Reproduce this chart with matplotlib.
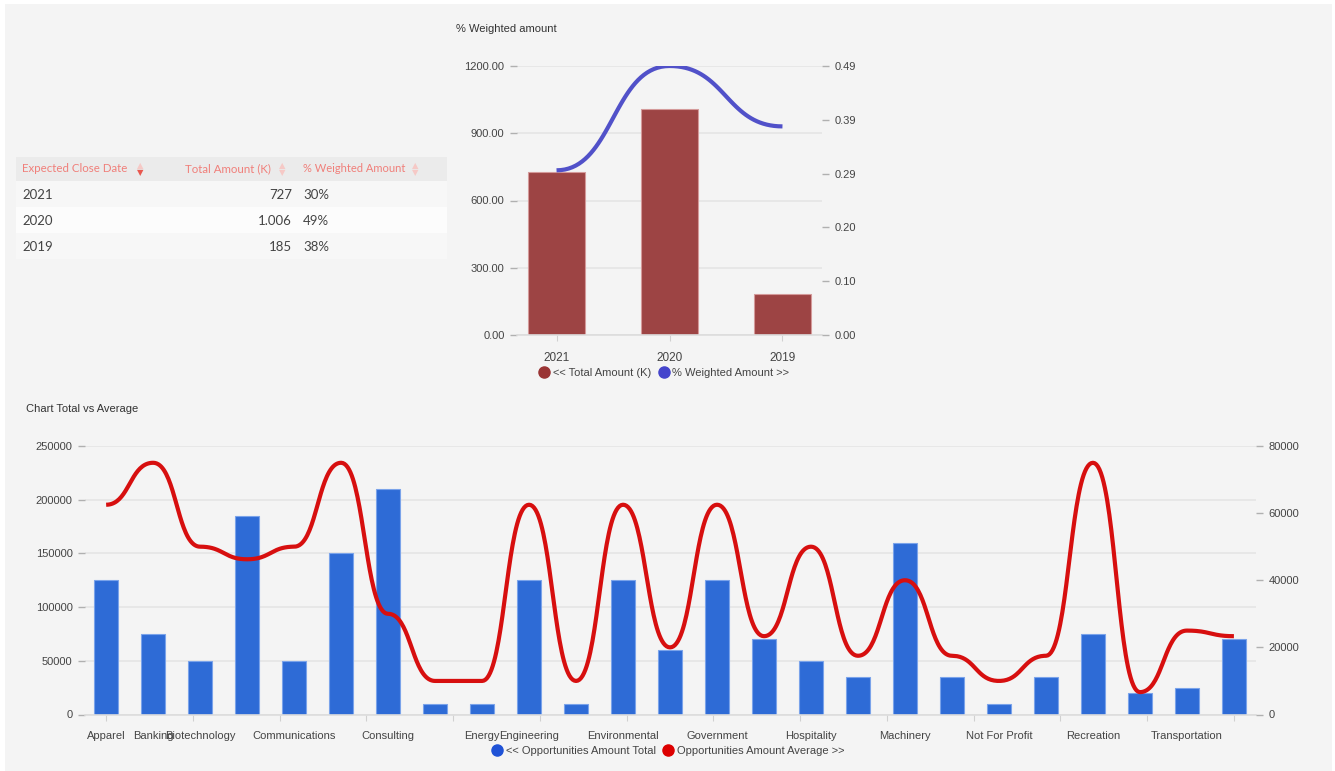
import numpy as np
import matplotlib
matplotlib.use('Agg')
import matplotlib.pyplot as plt
from matplotlib.lines import Line2D
from matplotlib.patches import Rectangle

# --- data ---------------------------------------------------------------
years = ['2021', '2020', '2019']
total_amount_k = [727, 1006, 185]
weighted_pct = [0.30, 0.49, 0.38]
table_amount = ['727', '1.006', '185']
table_pct = ['30%', '49%', '38%']

categories = ['Apparel', 'Banking', 'Biotechnology', 'Chemicals', 'Communications',
              'Construction', 'Consulting', 'Education', 'Energy', 'Engineering',
              'Entertainment', 'Environmental', 'Finance', 'Government', 'Healthcare',
              'Hospitality', 'Insurance', 'Machinery', 'Media', 'Not For Profit',
              'Other', 'Recreation', 'Retail', 'Transportation', 'Utilities']
opp_total = [125000, 75000, 50000, 185000, 50000, 150000, 210000, 10000, 10000, 125000,
             10000, 125000, 60000, 125000, 70000, 50000, 35000, 160000, 35000, 10000,
             35000, 75000, 20000, 25000, 70000]
opp_average = [62500, 75000, 50000, 46250, 50000, 75000, 30000, 10000, 10000, 62500,
               10000, 62500, 20000, 62500, 23333, 50000, 17500, 40000, 17500, 10000,
               17500, 75000, 6667, 25000, 23333]
shown_labels = ['Apparel', 'Banking', 'Biotechnology', 'Communications', 'Consulting',
                'Energy', 'Engineering', 'Environmental', 'Government', 'Hospitality',
                'Machinery', 'Not For Profit', 'Recreation', 'Transportation']

W, H = 1335, 771
BG = '#f4f4f4'
TXT = '#444444'
GRID = '#e6e6e6'
plt.rcParams['font.family'] = ['Liberation Sans', 'DejaVu Sans']


def fx(x):
    return x / W


def fy(y):
    return 1 - y / H


def smooth(xs, ys, n=40):
    # each segment is a bezier with flat tangents at the points
    px, py = [], []
    t = np.linspace(0, 1, n)
    for i in range(len(xs) - 1):
        x0, x1, y0, y1 = xs[i], xs[i + 1], ys[i], ys[i + 1]
        h = x1 - x0
        c = [(x0, y0), (x0 + 0.5 * h, y0), (x1 - 0.5 * h, y1), (x1, y1)]
        b = [(1 - t) ** 3, 3 * (1 - t) ** 2 * t, 3 * (1 - t) * t ** 2, t ** 3]
        px.extend(sum(b[k] * c[k][0] for k in range(4)))
        py.extend(sum(b[k] * c[k][1] for k in range(4)))
    return np.array(px), np.array(py)


def style_axes(ax, ax2):
    ax.set_facecolor('none')
    for s in ['top', 'left', 'right']:
        ax.spines[s].set_visible(False)
        ax2.spines[s].set_visible(False)
    ax2.spines['bottom'].set_visible(False)
    ax.spines['bottom'].set_color('#dcdcdc')
    ax.spines['bottom'].set_linewidth(1.2)
    ax.grid(axis='y', color=GRID, lw=1.3)
    ax.set_axisbelow(True)
    ax.tick_params(axis='y', length=5, width=1, color='#b0b0b0', pad=4,
                   labelsize=8, labelcolor=TXT)
    ax2.tick_params(axis='y', length=5, width=1, color='#b0b0b0', pad=4,
                    labelsize=8, labelcolor=TXT)
    ax.tick_params(axis='x', length=4, width=0.8, color='#d0d0d0',
                   labelsize=8, labelcolor=TXT)


fig = plt.figure(figsize=(W / 100, H / 100), dpi=100, facecolor='white')
fig.patches.append(Rectangle((fx(5), 0), fx(1327), fy(4), transform=fig.transFigure,
                             facecolor=BG, edgecolor='none', zorder=-10))

# --- table --------------------------------------------------------------
tbl_font = ['Lato', 'DejaVu Sans']
fig.patches.append(Rectangle((fx(16), fy(181)), fx(431), 24 / H, transform=fig.transFigure,
                             facecolor='#ebebeb', edgecolor='none'))
row_bg = ['#f7f7f7', '#fcfcfc', '#f7f7f7']
for i in range(3):
    fig.patches.append(Rectangle((fx(16), fy(207 + 26 * i)), fx(431), 26 / H,
                                 transform=fig.transFigure, facecolor=row_bg[i],
                                 edgecolor='none'))
HEAD = '#f07f7a'
fig.text(fx(22), fy(169), 'Expected Close Date', color=HEAD, fontsize=8.3, va='center',
         family=tbl_font)
fig.text(fx(271), fy(169), 'Total Amount (K)', color=HEAD, fontsize=8.3, va='center',
         ha='right', family=tbl_font)
fig.text(fx(303), fy(169), '% Weighted Amount', color=HEAD, fontsize=8.0, va='center',
         family=tbl_font)
for xi, active in [(140, True), (282, False), (415, False)]:
    fig.text(fx(xi), fy(166), '\u25b2', color='#f6c9c6', fontsize=6, ha='center',
             va='center', family='DejaVu Sans')
    fig.text(fx(xi), fy(173), '\u25bc', color='#e8584f' if active else '#f6c9c6',
             fontsize=6, ha='center', va='center', family='DejaVu Sans')
for i, yr in enumerate(years):
    yc = 195 + 26 * i
    fig.text(fx(22), fy(yc), yr, color=TXT, fontsize=9.5, va='center', family=tbl_font)
    fig.text(fx(292), fy(yc), table_amount[i], color=TXT, fontsize=9.5, va='center',
             ha='right', family=tbl_font)
    fig.text(fx(303), fy(yc), table_pct[i], color=TXT, fontsize=9.5, va='center',
             family=tbl_font)

# --- top chart ----------------------------------------------------------
ax = fig.add_axes([fx(517), fy(335), (822 - 517) / W, (335 - 66) / H])
ax2 = ax.twinx()
style_axes(ax, ax2)
xt = np.arange(len(years))
ax.bar(xt, total_amount_k, width=0.5, color='#9d4444', edgecolor='#d49a9a', lw=0.8)
ax.set_xlim(-0.35, 2.35)
ax.set_ylim(0, 1200)
ax.set_yticks([0, 300, 600, 900, 1200])
ax.yaxis.set_major_formatter(plt.FormatStrFormatter('%.2f'))
ax.set_xticks(xt, years)
ax.tick_params(axis='x', labelsize=8.5, pad=8)
lx, ly = smooth(xt, weighted_pct)
ax2.plot(lx, ly, color='#5151c9', lw=3.0, solid_capstyle='butt')
ax2.set_ylim(0, 0.49)
ax2.set_yticks(np.linspace(0, 0.49, 6))
ax2.yaxis.set_major_formatter(plt.FormatStrFormatter('%.2f'))
fig.text(fx(456), fy(29), '% Weighted amount', fontsize=8, color='#333333', va='center')
h1 = [Line2D([], [], marker='o', ls='none', ms=8, color='#9a3434'),
      Line2D([], [], marker='o', ls='none', ms=8, color='#4444cc')]
fig.legend(h1, ['<< Total Amount (K)', '% Weighted Amount >>'], loc='center',
           bbox_to_anchor=(fx(664), fy(373)), ncol=2, frameon=False, fontsize=8,
           handletextpad=0.3, columnspacing=0.6, handlelength=1.0, labelcolor=TXT,
           borderpad=0)

# --- bottom chart -------------------------------------------------------
bx = fig.add_axes([fx(85), fy(714.5), (1256 - 85) / W, (714.5 - 446) / H])
bx2 = bx.twinx()
style_axes(bx, bx2)
xc = np.arange(len(categories))
bx.bar(xc, opp_total, width=0.5, color='#2e6bd6', edgecolor='#7aa3ea', lw=0.8)
bx.set_xlim(-0.45, 24.47)
bx.set_ylim(0, 250000)
bx.set_yticks(np.arange(0, 250001, 50000))
bx.xaxis.remove_overlapping_locs = False
bx.set_xticks(np.linspace(0, len(categories) - 1, len(shown_labels)), [''] * len(shown_labels))
bx.set_xticks([categories.index(c) for c in shown_labels], shown_labels, minor=True)
bx.tick_params(axis='x', which='minor', length=0, pad=12, labelsize=8, labelcolor=TXT)
cx, cy = smooth(xc, opp_average)
bx2.plot(cx, cy, color='#d70f0f', lw=3.0, solid_capstyle='butt')
bx2.set_ylim(0, 80000)
bx2.set_yticks(np.arange(0, 80001, 20000))
fig.text(fx(26), fy(409), 'Chart Total vs Average', fontsize=8, color='#333333', va='center')
h2 = [Line2D([], [], marker='o', ls='none', ms=8, color='#1f52d6'),
      Line2D([], [], marker='o', ls='none', ms=8, color='#dd0000')]
fig.legend(h2, ['<< Opportunities Amount Total', 'Opportunities Amount Average >>'],
           loc='center', bbox_to_anchor=(fx(668), fy(751)), ncol=2, frameon=False,
           fontsize=8, handletextpad=0.3, columnspacing=0.6, handlelength=1.0,
           labelcolor=TXT, borderpad=0)

fig.savefig('out.png', dpi=100, facecolor='white')
